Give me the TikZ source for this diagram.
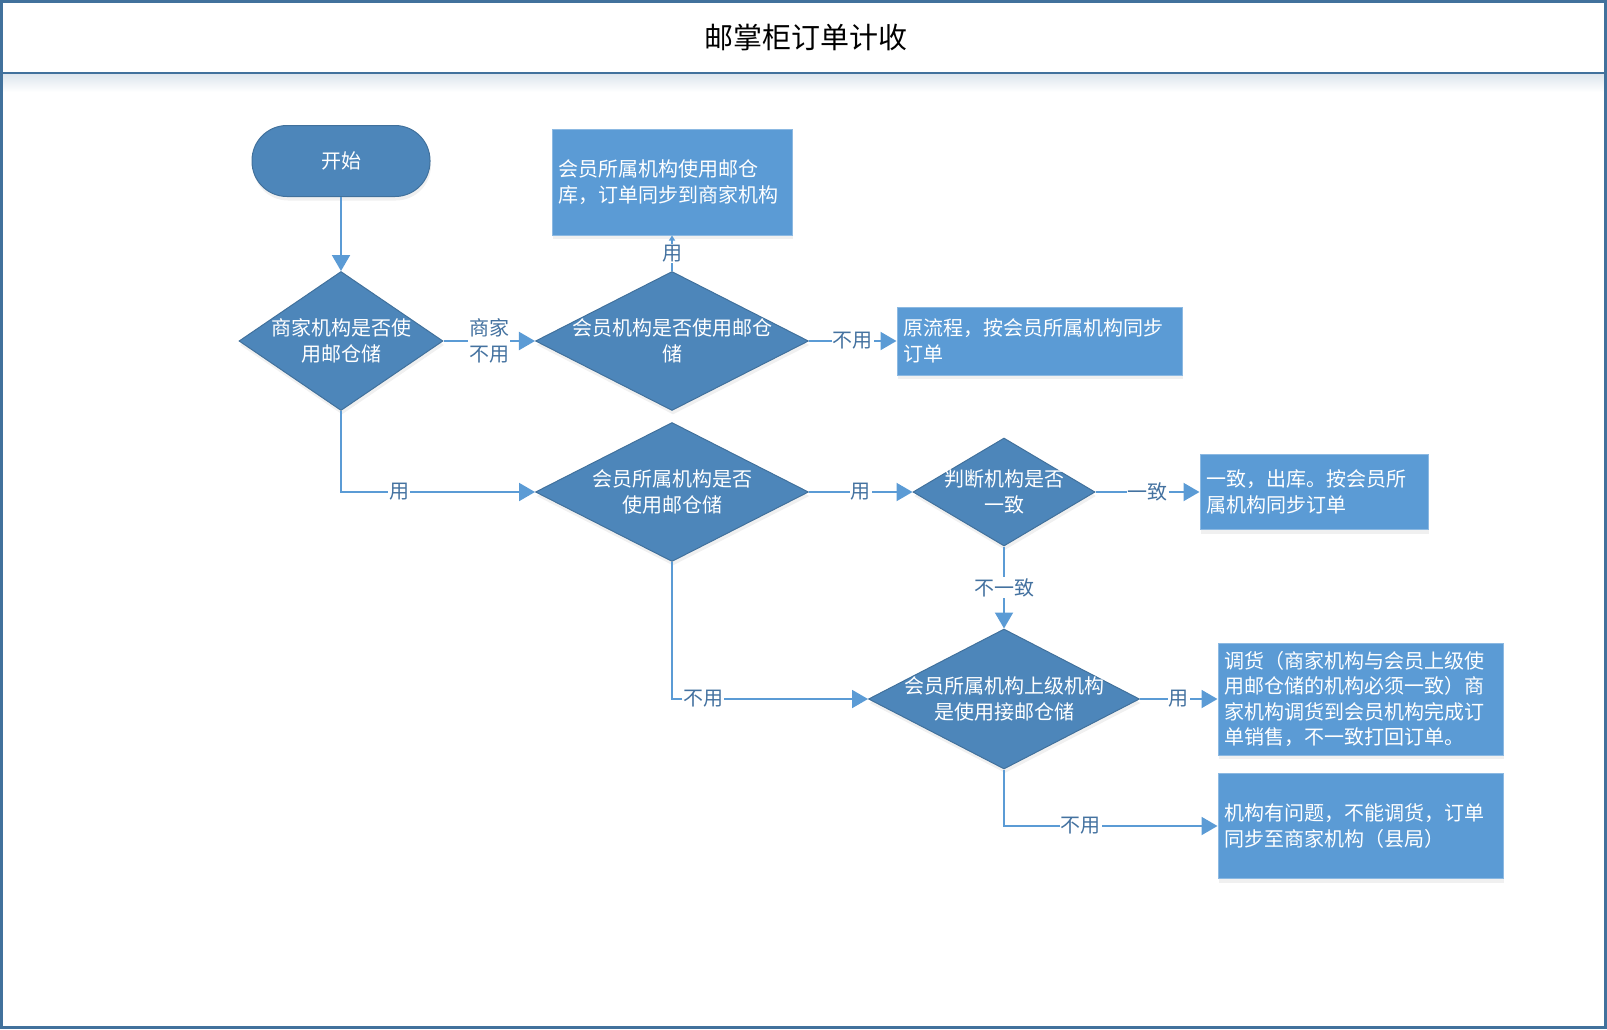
\documentclass[tikz,border=0pt]{standalone}
\usepackage{fontspec}
\setmainfont{Noto Sans CJK SC}
\usetikzlibrary{shapes.geometric,arrows.meta,shadows}
\definecolor{frameblue}{RGB}{65,113,156}
\definecolor{decblue}{RGB}{77,134,186}
\definecolor{boxblue}{RGB}{91,155,213}
\definecolor{lineblue}{RGB}{91,155,213}
\definecolor{lblblue}{RGB}{68,114,160}
\begin{document}
\begin{tikzpicture}[x=1pt, y=-1pt,
  every node/.style={font=\fontsize{20}{25.6}\selectfont},
  soft/.style={drop shadow={opacity=0.12, shadow xshift=1pt, shadow yshift=-4pt}},
  terminal/.style={rectangle, rounded corners=35pt, draw=frameblue, line width=1pt, fill=decblue, text=white, minimum width=178pt, minimum height=71pt, soft},
  decision/.style={diamond, draw=frameblue, line width=1pt, fill=decblue, inner sep=0pt, soft},
  dtext/.style={text=white, align=center, inner sep=0pt},
  procbox/.style={rectangle, draw=boxblue!70!white, line width=1pt, fill=boxblue, text=white, inner xsep=6pt, align=left, soft},
  flow/.style={draw=lineblue, line width=2pt, -{Triangle[length=16pt,width=18pt]}},
  lbl/.style={fill=white, text=lblblue, inner sep=1pt, align=center}]
  \useasboundingbox (0,0) rectangle (1607,1029);
  \shade[top color=frameblue!18, bottom color=white] (3,74) rectangle (1604,92);
  \draw[frameblue, line width=2.5pt] (1.5,1.5) rectangle (1605.5,1027.5);
  \draw[frameblue, line width=2.5pt] (1.5,73) -- (1605.5,73);
  \node[font=\fontsize{29}{34}\selectfont] (title) at (806,37) {邮掌柜订单计收};

  \node[terminal] (start) at (341,161) {开始};
  \node[decision, minimum width=204pt, minimum height=139pt, label={[dtext]center:商家机构是否使\\用邮仓储}] (q1) at (341,341) {};
  \node[decision, minimum width=273pt, minimum height=139pt, label={[dtext]center:会员机构是否使用邮仓\\储}] (q2) at (672,341) {};
  \node[decision, minimum width=273pt, minimum height=139pt, label={[dtext]center:会员所属机构是否\\使用邮仓储}] (q3) at (672,492) {};
  \node[decision, minimum width=182pt, minimum height=108pt, label={[dtext]center:判断机构是否\\一致}] (q4) at (1004,492) {};
  \node[decision, minimum width=271pt, minimum height=140pt, label={[dtext]center:会员所属机构上级机构\\是使用接邮仓储}] (q5) at (1004,699) {};

  \node[procbox, minimum width=240pt, minimum height=106pt, text width=228pt] (ra) at (672,182) {会员所属机构使用邮仓\\库，订单同步到商家机构};
  \node[procbox, minimum width=285pt, minimum height=68pt, text width=273pt] (rb) at (1039.5,341) {原流程，按会员所属机构同步\\订单};
  \node[procbox, minimum width=228pt, minimum height=75pt, text width=216pt] (rc) at (1314,492) {一致，出库。按会员所\\属机构同步订单};
  \node[procbox, minimum width=285pt, minimum height=112pt, text width=273pt] (rd) at (1360.5,699) {调货（商家机构与会员上级使\\用邮仓储的机构必须一致）商\\家机构调货到会员机构完成订\\单销售，不一致打回订单。};
  \node[procbox, minimum width=285pt, minimum height=105pt, text width=273pt] (re) at (1360.5,826) {机构有问题，不能调货，订单\\同步至商家机构（县局）};

  \draw[flow] (start) -- (q1);
  \draw[flow] (q1) -- node[lbl] {商家\\不用} (q2);
  \draw[flow, -{Triangle[length=5pt,width=6pt]}] (q2) -- node[lbl] {用} (ra);
  \draw[flow] (q2) -- node[lbl] {不用} (rb);
  \draw[flow] (q1.south) |- node[lbl, pos=0.65] {用} (q3.west);
  \draw[flow] (q3) -- node[lbl] {用} (q4);
  \draw[flow] (q4) -- node[lbl] {一致} (rc);
  \draw[flow] (q4) -- node[lbl] {不一致} (q5);
  \draw[flow] (q5) -- node[lbl] {用} (rd);
  \draw[flow] (q3.south) |- node[lbl, pos=0.58] {不用} (q5.west);
  \draw[flow] (q5.south) |- node[lbl, pos=0.68] {不用} (re.west);
\end{tikzpicture}
\end{document}
